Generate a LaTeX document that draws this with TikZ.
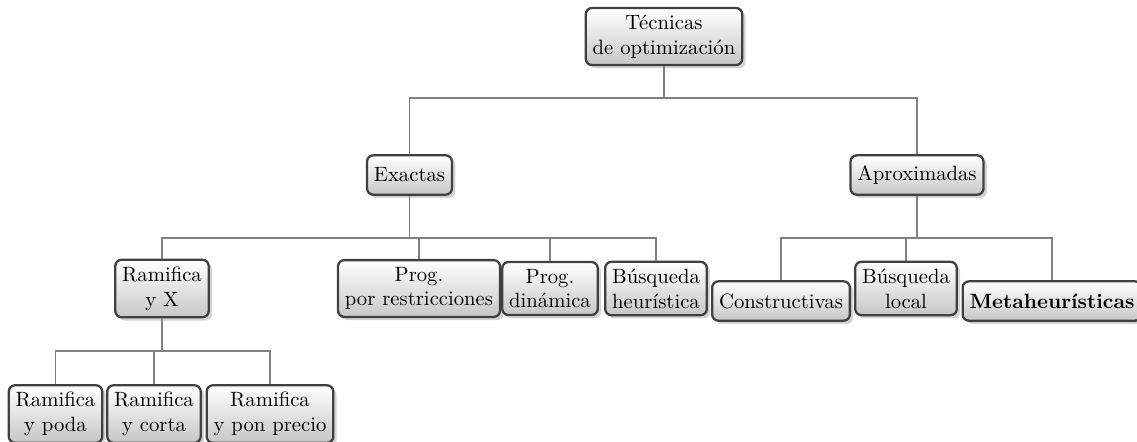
\documentclass[tikz,border=0pt]{standalone}
\usetikzlibrary{shadows}
\begin{document}
\begin{tikzpicture}[x=0.4831pt,y=-0.4831pt,
  box/.style={draw=black!75, line width=1.1pt, rounded corners=3pt,
    top color=white, bottom color=black!22,
    drop shadow={shadow xshift=1.6pt, shadow yshift=-1.6pt, opacity=0.35},
    align=center, inner sep=3.33pt},
  one/.style={box, minimum height=19pt},
  two/.style={box, minimum height=25pt},
  conn/.style={draw=black!50, line width=0.7pt}]
\useasboundingbox (0,0) rectangle (1137,441);

% level 0
\node[two] (root) at (664,36.5) {Técnicas\\de optimización};
% level 1
\node[one] (ex) at (409.5,175) {Exactas};
\node[one] (ap) at (917,175) {Aproximadas};
% level 2, exact methods
\node[two] (rx) at (162,288.5) {Ramifica\\y X};
\node[two] (pr) at (419,288.5) {Prog.\\por restricciones};
\node[two] (pd) at (550,288.5) {Prog.\\dinámica};
\node[two] (bh) at (656,288.5) {Búsqueda\\heurística};
% level 2, approximate methods
\node[one] (co) at (781,301) {Constructivas};
\node[two] (bl) at (906,288.5) {Búsqueda\\local};
\node[one] (mh) at (1052,301) {\bfseries Metaheurísticas};
% level 3, branch and X
\node[two] (rp) at (55.5,414) {Ramifica\\y poda};
\node[two] (rc) at (154,414) {Ramifica\\y corta};
\node[two] (rpp) at (270,414) {Ramifica\\y pon precio};

% fork points
\coordinate (f1) at (664,98);
\coordinate (f2) at (409.5,238);
\coordinate (f3) at (917,238);
\coordinate (f4) at (162,351);

% connectors
\draw[conn] (root.south) -- (f1);
\draw[conn] (f1) -| (ex.north);
\draw[conn] (f1) -| (ap.north);

\draw[conn] (ex.south) -- (f2);
\draw[conn] (f2) -| (rx.north);
\draw[conn] (f2) -| (pr.north);
\draw[conn] (f2) -| (pd.north);
\draw[conn] (f2) -| (bh.north);

\draw[conn] (ap.south) -- (f3);
\draw[conn] (f3) -| (co.north);
\draw[conn] (f3) -| (bl.north);
\draw[conn] (f3) -| (mh.north);

\draw[conn] (rx.south) -- (f4);
\draw[conn] (f4) -| (rp.north);
\draw[conn] (f4) -| (rc.north);
\draw[conn] (f4) -| (rpp.north);
\end{tikzpicture}
\end{document}
